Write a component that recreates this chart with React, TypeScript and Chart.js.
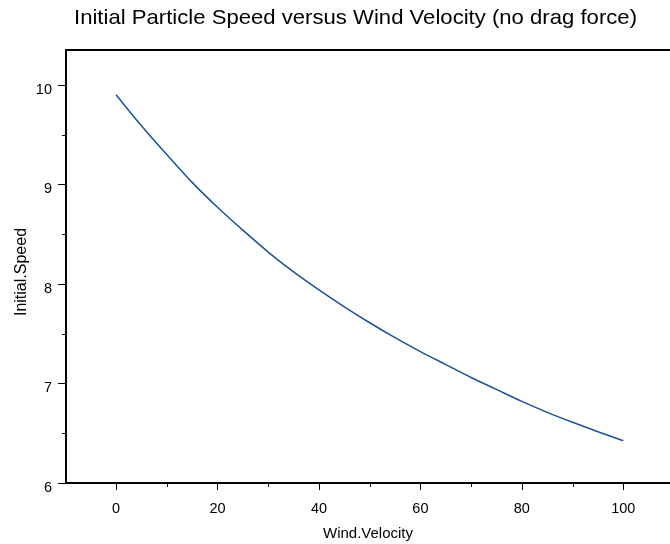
import React, { useEffect, useRef } from "react";
import { Chart, registerables } from "chart.js";

Chart.register(...registerables);

const TITLE = "Initial Particle Speed versus Wind Velocity (no drag force)";
const X_TITLE = "Wind.Velocity";
const Y_TITLE = "Initial.Speed";

const windVelocity = [0, 5, 10, 15, 20, 25, 30, 35, 40, 45, 50, 55, 60, 65, 70, 75, 80, 85, 90, 95, 100];
const initialSpeed = [9.9, 9.59, 9.3, 9.02, 8.77, 8.54, 8.32, 8.12, 7.94, 7.77, 7.61, 7.46, 7.32, 7.19, 7.06, 6.94, 6.82, 6.71, 6.61, 6.515, 6.425];

const xMajorTicks = [0, 20, 40, 60, 80, 100];
const xMinorTicks = [10, 30, 50, 70, 90];
const yMajorTicks = [6, 7, 8, 9, 10];
const yMinorTicks = [6.5, 7.5, 8.5, 9.5];

const FONT = '"Liberation Sans", Arial, Helvetica, sans-serif';

const decorPlugin = {
  id: "decor",
  afterDraw(chart: any) {
    const ctx = chart.ctx as CanvasRenderingContext2D;
    const area = chart.chartArea;
    const xs = chart.scales.x;
    const ys = chart.scales.y;
    ctx.save();
    ctx.strokeStyle = "#000";
    ctx.fillStyle = "#000";
    // frame: left, top, bottom
    ctx.lineWidth = 2;
    ctx.beginPath();
    ctx.moveTo(area.right + 2, area.top);
    ctx.lineTo(area.left, area.top);
    ctx.lineTo(area.left, area.bottom);
    ctx.lineTo(area.right + 2, area.bottom);
    ctx.stroke();
    // ticks
    ctx.lineWidth = 1;
    ctx.beginPath();
    for (const v of xMajorTicks) {
      const p = Math.round(xs.getPixelForValue(v)) + 0.5;
      ctx.moveTo(p, area.bottom);
      ctx.lineTo(p, area.bottom + 7);
    }
    for (const v of xMinorTicks) {
      const p = Math.round(xs.getPixelForValue(v)) + 0.5;
      ctx.moveTo(p, area.bottom);
      ctx.lineTo(p, area.bottom + 4);
    }
    for (const v of yMajorTicks) {
      const p = Math.round(ys.getPixelForValue(v)) + 0.5;
      ctx.moveTo(area.left, p);
      ctx.lineTo(area.left - 8, p);
    }
    for (const v of yMinorTicks) {
      const p = Math.round(ys.getPixelForValue(v)) + 0.5;
      ctx.moveTo(area.left, p);
      ctx.lineTo(area.left - 4, p);
    }
    ctx.stroke();

    // tick labels
    ctx.font = "14.5px " + FONT;
    ctx.textBaseline = "alphabetic";
    ctx.textAlign = "center";
    for (const v of xMajorTicks) {
      ctx.fillText(String(v), xs.getPixelForValue(v), area.bottom + 30);
    }
    ctx.textAlign = "right";
    for (const v of yMajorTicks) {
      ctx.fillText(String(v), area.left - 14, ys.getPixelForValue(v) + 9);
    }

    // main title
    ctx.font = "21px " + FONT;
    ctx.textAlign = "left";
    const w = ctx.measureText(TITLE).width;
    const target = 563;
    ctx.save();
    ctx.translate(74, 24);
    ctx.scale(target / w, 1);
    ctx.fillText(TITLE, 0, 0);
    ctx.restore();

    // x title
    ctx.font = "15px " + FONT;
    ctx.textAlign = "center";
    ctx.fillText(X_TITLE, 368, 537.5);

    // y title
    ctx.font = "16px " + FONT;
    ctx.save();
    ctx.translate(26, 272);
    ctx.rotate(-Math.PI / 2);
    ctx.fillText(Y_TITLE, 0, 0);
    ctx.restore();
    ctx.restore();
  },
};

export default function App() {
  const ref = useRef<HTMLCanvasElement | null>(null);
  useEffect(() => {
    if (!ref.current) return;
    const chart = new Chart(ref.current, {
      type: "line",
      data: {
        datasets: [
          {
            data: windVelocity.map((x, i) => ({ x, y: initialSpeed[i] })),
            borderColor: "#1a5296",
            borderWidth: 1.5,
            pointRadius: 0,
            cubicInterpolationMode: "monotone",
            fill: false,
          },
        ],
      },
      options: {
        animation: false,
        responsive: false,
        maintainAspectRatio: false,
        layout: { padding: { top: 50, left: 0, right: 0, bottom: 0 } },
        plugins: {
          legend: { display: false },
          title: { display: false },
          tooltip: { enabled: false },
        },
        scales: {
          x: {
            type: "linear",
            min: -9.86,
            max: 109.2,
            grid: { display: false, drawTicks: false },
            border: { display: false },
            afterBuildTicks: (s: any) => {
              s.ticks = xMajorTicks.map((v) => ({ value: v }));
            },
            afterFit: (s: any) => {
              s.height = 61;
            },
            ticks: { display: false },
          },
          y: {
            type: "linear",
            min: 6,
            max: 10.35,
            grid: { display: false, drawTicks: false },
            border: { display: false },
            afterBuildTicks: (s: any) => {
              s.ticks = yMajorTicks.map((v) => ({ value: v }));
            },
            afterFit: (s: any) => {
              s.width = 66;
            },
            ticks: { display: false },
          },
        },
      },
      plugins: [decorPlugin],
    });
    return () => chart.destroy();
  }, []);
  return (
    <div style={{ position: "absolute", left: 0, top: 0, width: 670, height: 544, overflow: "hidden", background: "#fff" }}>
      <canvas ref={ref} width={670} height={544} style={{ display: "block", width: 670, height: 544 }} />
    </div>
  );
}
